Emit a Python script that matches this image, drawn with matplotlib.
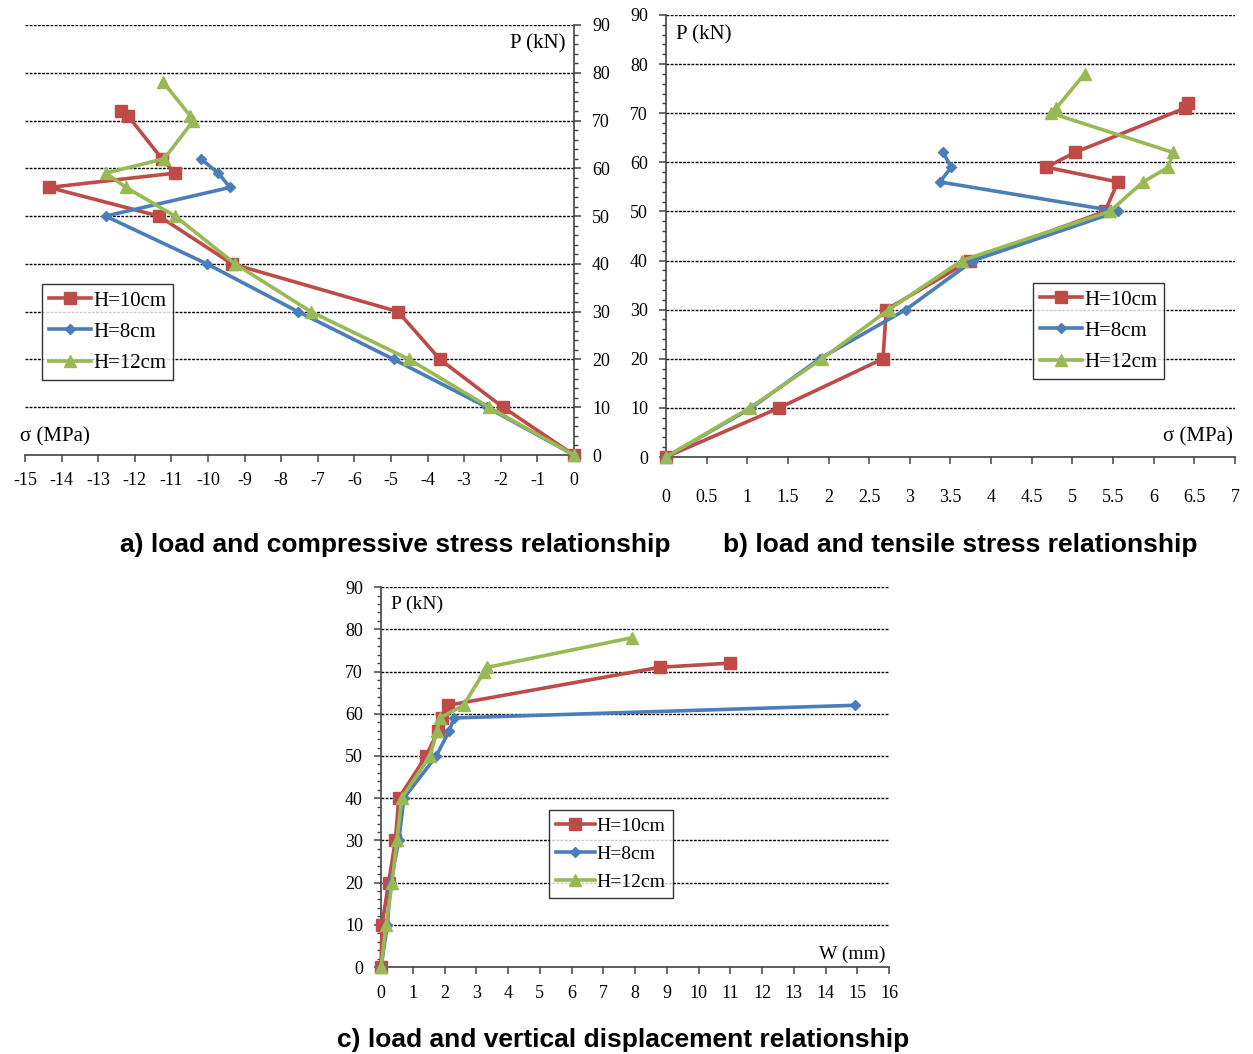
import matplotlib
matplotlib.use('Agg')
import matplotlib.pyplot as plt
from matplotlib.ticker import MultipleLocator

# loads (kN) for each specimen
load_10 = [0, 10, 20, 30, 40, 50, 56, 59, 62, 71, 72]
load_8 = [0, 10, 20, 30, 40, 50, 56, 59, 62]
load_12 = [0, 10, 20, 30, 40, 50, 56, 59, 62, 70, 71, 78]

# a) compressive stress (MPa)
comp_10 = [0, -1.94, -3.66, -4.81, -9.34, -11.34, -14.34, -10.9, -11.26, -12.19, -12.38]
comp_8 = [0, -2.38, -4.92, -7.54, -10.03, -12.8, -9.4, -9.72, -10.2]
comp_12 = [0, -2.32, -4.5, -7.19, -9.26, -10.9, -12.24, -12.79, -11.2, -10.4, -10.49, -11.22]

# b) tensile stress (MPa)
tens_10 = [0, 1.39, 2.67, 2.71, 3.74, 5.4, 5.56, 4.68, 5.03, 6.38, 6.42]
tens_8 = [0, 1.05, 1.89, 2.95, 3.78, 5.56, 3.37, 3.51, 3.41]
tens_12 = [0, 1.03, 1.92, 2.74, 3.64, 5.46, 5.87, 6.18, 6.24, 4.74, 4.8, 5.15]

# c) vertical displacement (mm)
disp_10 = [0, 0.03, 0.24, 0.45, 0.56, 1.42, 1.8, 1.93, 2.11, 8.78, 11.0]
disp_8 = [0, 0.2, 0.3, 0.56, 0.72, 1.74, 2.15, 2.3, 14.93]
disp_12 = [0, 0.16, 0.35, 0.5, 0.65, 1.54, 1.77, 1.85, 2.6, 3.25, 3.35, 7.9]

labels = ['H=10cm', 'H=8cm', 'H=12cm']
colors = ['#BE4B48', '#4A7EBB', '#98B954']
markers = ['s', 'D', '^']
msizes = [8, 5, 8]

serif = 'Liberation Serif'
plt.rcParams['font.family'] = serif

fig = plt.figure(figsize=(12.53, 10.54), dpi=100)


def draw(ax, xs, xlim, xstep, xpad, side):
    loads = [load_10, load_8, load_12]
    for x, y, lab, c, m, ms in zip(xs, loads, labels, colors, markers, msizes):
        ax.plot(x, y, color=c, lw=2.6, marker=m, ms=ms, label=lab, zorder=3, clip_on=False)
    ax.set_xlim(*xlim)
    ax.set_ylim(0, 90)
    ax.xaxis.set_major_locator(MultipleLocator(xstep))
    ax.yaxis.set_major_locator(MultipleLocator(10))
    ax.yaxis.set_minor_locator(MultipleLocator(2))
    ax.grid(axis='y', which='major', color='black', lw=1.0, ls=(0, (2, 1)), zorder=1)
    ax.set_axisbelow(True)
    for s in ['top', 'left', 'right']:
        ax.spines[s].set_visible(False)
    ax.spines[side].set_visible(True)
    for s in ['bottom', side]:
        ax.spines[s].set_color('#444444')
        ax.spines[s].set_linewidth(1.2)
    if side == 'right':
        ax.yaxis.tick_right()
    ax.tick_params(axis='x', which='major', length=5, width=1.1, color='#444444',
                   labelsize=13, pad=xpad)
    ax.tick_params(axis='y', which='major', length=5, width=1.1, color='#444444',
                   labelsize=13, pad=8)
    ax.tick_params(axis='y', which='minor', length=3, width=1.0, color='#444444')
    ax.xaxis.set_major_formatter(matplotlib.ticker.FuncFormatter(lambda v, p: ('%g' % v)))


def add_legend(ax, anchor, size):
    lg = ax.legend(loc='upper left', bbox_to_anchor=anchor, fontsize=size, frameon=True,
                   fancybox=False, edgecolor='black', handlelength=2.0, handletextpad=0.1,
                   borderpad=0.35, labelspacing=0.55, borderaxespad=0)
    lg.get_frame().set_linewidth(1.0)


# a) compressive
ax1 = fig.add_axes([0.0200, 0.5683, 0.4381, 0.4080])
draw(ax1, [comp_10, comp_8, comp_12], (-15, 0), 1, 7, 'right')
ax1.text(0.985, 0.955, 'P (kN)', transform=ax1.transAxes, ha='right', va='center', fontsize=15)
ax1.text(-0.01, 0.042, 'σ (MPa)', transform=ax1.transAxes, ha='left', va='center', fontsize=15)
add_legend(ax1, (0.031, 0.398), 15)

# b) tensile
ax2 = fig.add_axes([0.5315, 0.5664, 0.4541, 0.4194])
draw(ax2, [tens_10, tens_8, tens_12], (0, 7), 0.5, 18, 'left')
ax2.text(0.018, 0.955, 'P (kN)', transform=ax2.transAxes, ha='left', va='center', fontsize=15)
ax2.text(0.997, 0.045, 'σ (MPa)', transform=ax2.transAxes, ha='right', va='center', fontsize=15)
add_legend(ax2, (0.645, 0.394), 15)

# c) displacement
ax3 = fig.add_axes([0.3041, 0.0825, 0.4054, 0.3605])
draw(ax3, [disp_10, disp_8, disp_12], (0, 16), 1, 8, 'left')
ax3.text(0.02, 0.955, 'P (kN)', transform=ax3.transAxes, ha='left', va='center', fontsize=14)
ax3.text(0.994, 0.034, 'W (mm)', transform=ax3.transAxes, ha='right', va='center', fontsize=14)
add_legend(ax3, (0.331, 0.413), 14)

cap = dict(fontsize=19, fontweight='bold', family='Liberation Sans', ha='center', va='center')
fig.text(395 / 1253, 1 - 545 / 1054, 'a) load and compressive stress relationship', **cap)
fig.text(960 / 1253, 1 - 545 / 1054, 'b) load and tensile stress relationship', **cap)
fig.text(623 / 1253, 1 - 1040 / 1054, 'c) load and vertical displacement relationship', **cap)

fig.savefig('out.png', dpi=100)
